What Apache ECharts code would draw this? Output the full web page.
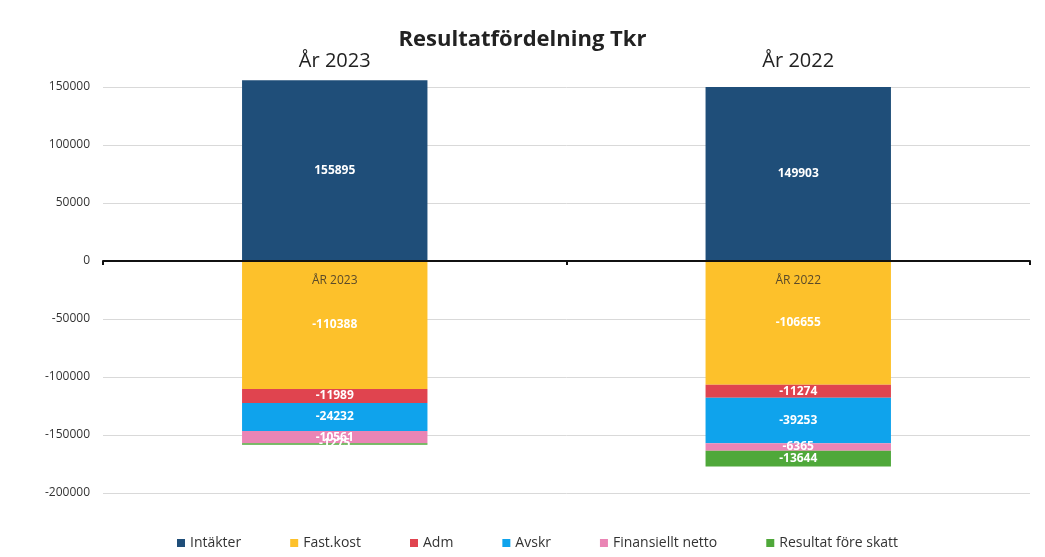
<!DOCTYPE html>
<html>
<head>
<meta charset="utf-8">
<script src="https://cdn.jsdelivr.net/npm/echarts@6/dist/echarts.min.js"></script>
<style>
  html, body { margin: 0; padding: 0; background: #fff; }
  #chart { width: 1045px; height: 557px; }
</style>
</head>
<body>
<div id="chart"></div>
<script>
// kategorier (under nollinjen) och rubriker ovanför staplarna
const years = ['ÅR 2023', 'ÅR 2022'];
const yearTitles = ['År 2023', 'År 2022'];

const intakter = [155895, 149903];
const fastKost = [-110388, -106655];
const adm = [-11989, -11274];
const avskr = [-24232, -39253];
const finansiellt = [-10561, -6365];
const resultat = [-1275, -13644];

const yTicks = [-200000, 150000, 50000]; // min, max, steg

const chart = echarts.init(document.getElementById('chart'));
const font = '"Open Sans", "Noto Sans", sans-serif';

function bar(name, data, color) {
  return {
    name: name,
    type: 'bar',
    stack: 'tot',
    data: data,
    barWidth: '40%',
    clip: false,
    itemStyle: { color: color },
    label: {
      show: true,
      color: '#fff',
      fontWeight: 'bold',
      fontSize: 12,
      fontFamily: font
    }
  };
}

chart.setOption({
  backgroundColor: '#fff',
  textStyle: { fontFamily: font },
  title: {
    text: 'Resultatfördelning Tkr',
    left: 'center',
    top: 24,
    textStyle: { fontSize: 22, fontWeight: 'bold', color: '#222', fontFamily: font }
  },
  legend: {
    bottom: 2,
    left: 172,
    itemWidth: 8,
    itemHeight: 8,
    itemGap: 49,
    icon: 'rect',
    textStyle: { fontSize: 14, color: '#333', fontFamily: font }
  },
  grid: { left: 103, right: 15, top: 87, bottom: 64 },
  xAxis: [
    {
      type: 'category',
      data: years,
      z: 10,
      // nollinjen: axeln flyttas upp från gridens nederkant till värdet 0
      offset: -232,
      axisLine: { onZero: false, lineStyle: { color: '#111', width: 2 } },
      axisTick: { show: true, length: 4, lineStyle: { color: '#111', width: 2 } },
      axisLabel: { margin: 14, fontSize: 12, color: '#5a4a2a', fontFamily: font }
    },
    {
      type: 'category',
      data: yearTitles,
      position: 'top',
      axisLine: { show: false },
      axisTick: { show: false },
      axisLabel: { margin: 16, fontSize: 20, color: '#222', fontFamily: font }
    }
  ],
  yAxis: {
    type: 'value',
    min: yTicks[0],
    max: yTicks[1],
    interval: yTicks[2],
    axisLine: { show: false },
    axisTick: { show: false },
    axisLabel: { fontSize: 12, color: '#333', margin: 13, fontFamily: font, formatter: v => String(v) },
    splitLine: { lineStyle: { color: '#d9d9d9' } }
  },
  series: [
    bar('Intäkter', intakter, '#1f4e79'),
    bar('Fast.kost', fastKost, '#fdc12b'),
    bar('Adm', adm, '#e0444f'),
    bar('Avskr', avskr, '#0fa3ec'),
    bar('Finansiellt netto', finansiellt, '#ea85b5'),
    bar('Resultat före skatt', resultat, '#4fa83a')
  ]
});
</script>
</body>
</html>
